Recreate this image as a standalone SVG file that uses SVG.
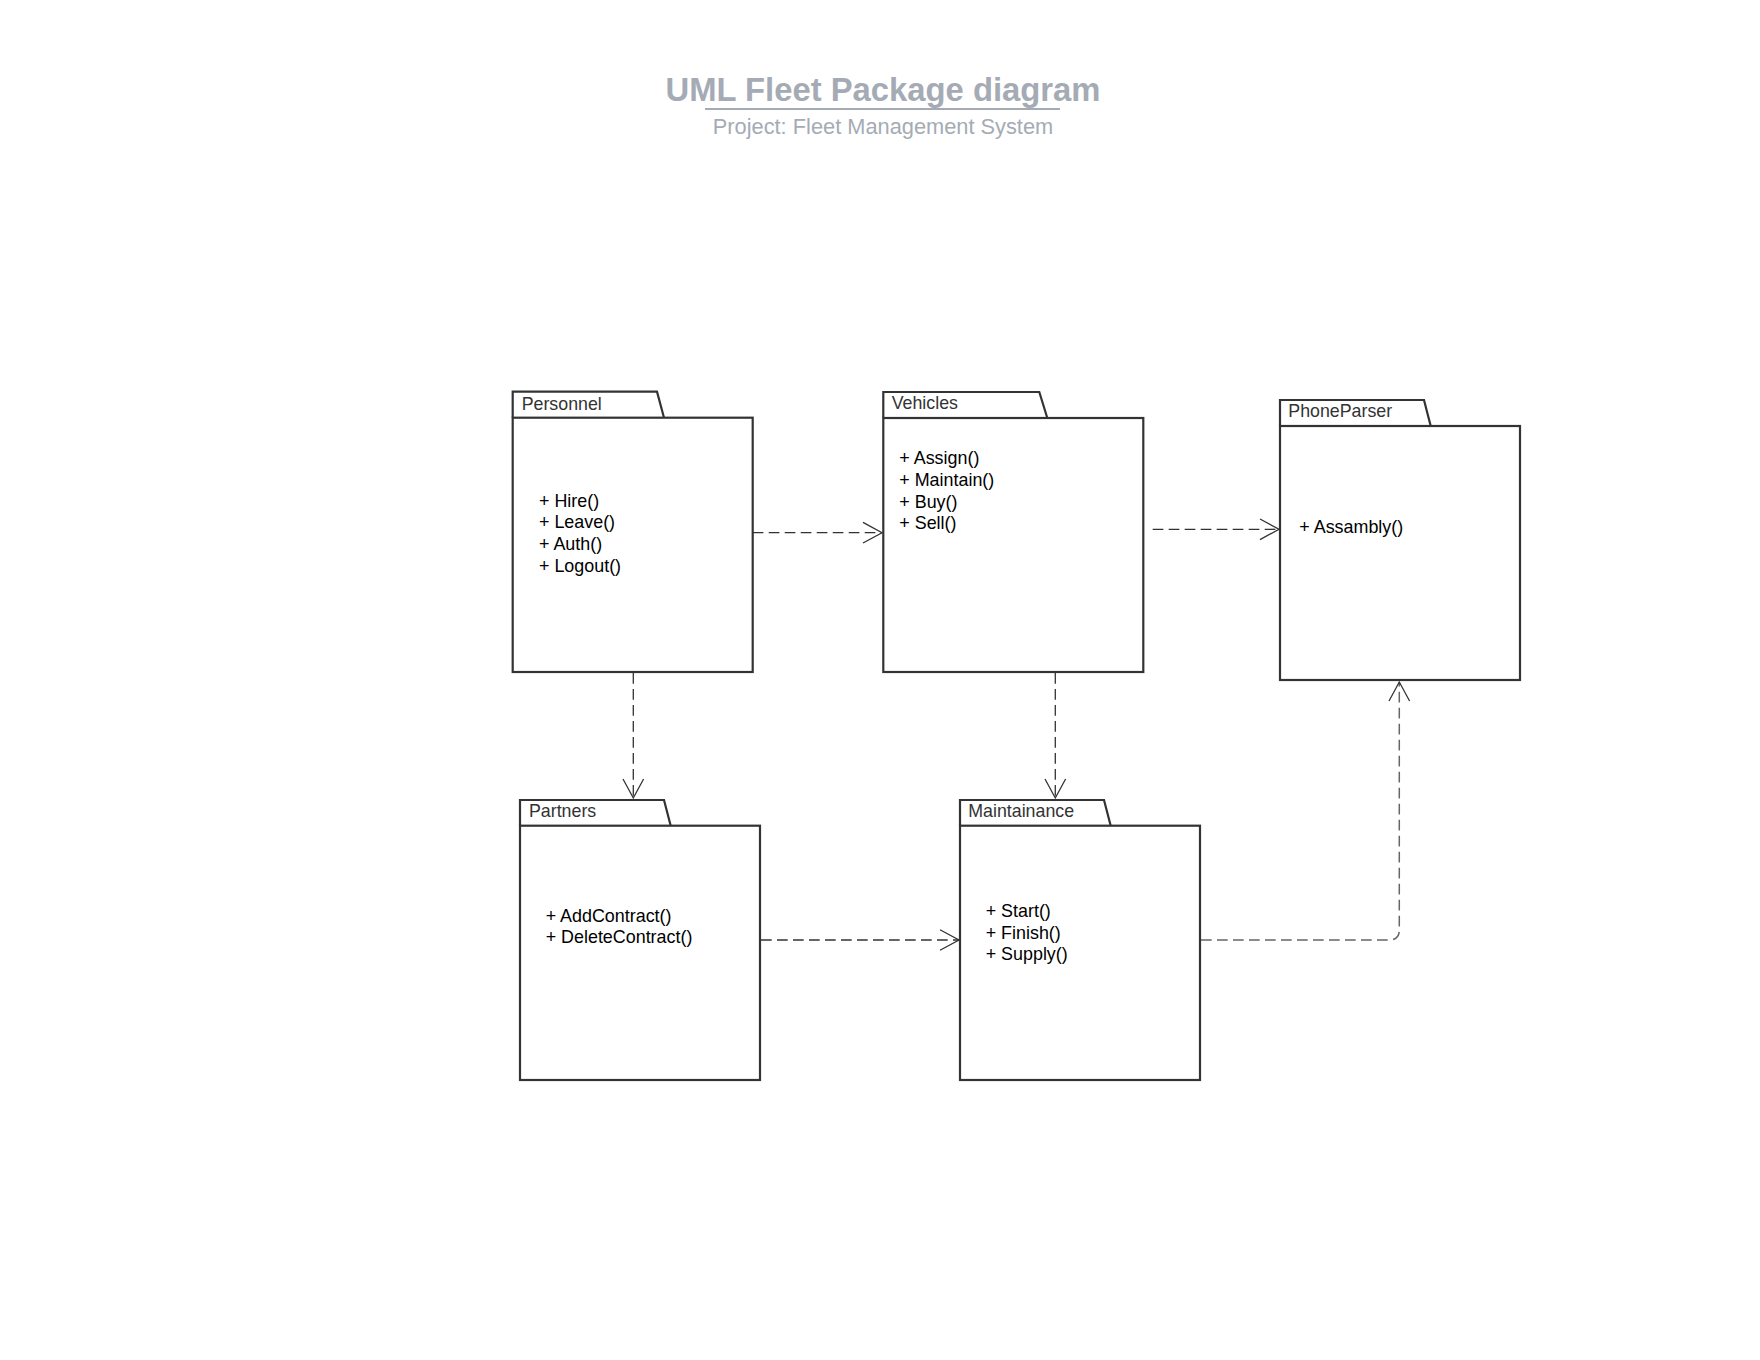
<svg xmlns="http://www.w3.org/2000/svg" width="1760" height="1360" viewBox="0 0 1760 1360">
<style>
.pkg{fill:#fff;stroke:#333;stroke-width:2.2;stroke-linejoin:miter}
.tab{fill:#fff;stroke:#333;stroke-width:2.2}
.lbl{font-family:"Liberation Sans",Arial,sans-serif;font-size:17.8px;fill:#333}
.mem{font-family:"Liberation Sans",Arial,sans-serif;font-size:17.9px;fill:#000}
.con{fill:none;stroke:#333;stroke-width:1.3;stroke-dasharray:10.7 5.3}
.con2{fill:none;stroke:#666;stroke-width:1.5;stroke-dasharray:10.7 5.3}
.title{font-family:"Liberation Sans",Arial,sans-serif;font-size:32.8px;font-weight:bold;fill:#a5abb4}
.sub{font-family:"Liberation Sans",Arial,sans-serif;font-size:21.8px;fill:#a5abb4}
</style>
<defs>
<marker id="open" viewBox="-22 -12 24 24" refX="0" refY="0" markerWidth="24" markerHeight="24" markerUnits="userSpaceOnUse" orient="auto">
<path d="M-19,-10.3 L0,0 L-19,10.3" fill="none" stroke="#333" stroke-width="1.3" stroke-dasharray="none"/>
</marker>
</defs>
<rect width="1760" height="1360" fill="#fff"/>
<g id="title">
<text class="title" x="883" y="101" text-anchor="middle">UML Fleet Package diagram</text>
<line x1="705" y1="109" x2="1060" y2="109" stroke="#a5abb4" stroke-width="2"/>
<text class="sub" x="883" y="134" text-anchor="middle">Project: Fleet Management System</text>
</g>
<g id="connectors">
<path class="con" d="M752.7,532.7 H882" marker-end="url(#open)"/>
<path class="con" d="M1152.7,529.3 H1279" marker-end="url(#open)"/>
<path class="con" d="M633.3,673 V798" marker-end="url(#open)"/>
<path class="con" d="M1055.3,673 V798" marker-end="url(#open)"/>
<path class="con" d="M761,940 H959" marker-end="url(#open)"/>
<path class="con2" d="M1201,940 H1389.3 Q1399.3,940 1399.3,930 V682" marker-end="url(#open)"/>
</g>
<g id="personnel">
<path class="tab" d="M512.7,417.7 V391.7 H657 L664,417.7"/>
<rect class="pkg" x="512.7" y="417.7" width="240" height="254.3"/>
<text class="lbl" x="521.7" y="409.5">Personnel</text>
<text class="mem" x="539" y="506.5">+ Hire()</text>
<text class="mem" x="539" y="528.2">+ Leave()</text>
<text class="mem" x="539" y="549.9">+ Auth()</text>
<text class="mem" x="539" y="571.6">+ Logout()</text>
</g>
<g id="vehicles">
<path class="tab" d="M883.3,418 V392 H1039.3 L1047.3,418"/>
<rect class="pkg" x="883.3" y="418" width="260" height="254"/>
<text class="lbl" x="891.7" y="409.2">Vehicles</text>
<text class="mem" x="899.3" y="464.1">+ Assign()</text>
<text class="mem" x="899.3" y="485.8">+ Maintain()</text>
<text class="mem" x="899.3" y="507.5">+ Buy()</text>
<text class="mem" x="899.3" y="529.2">+ Sell()</text>
</g>
<g id="phoneparser">
<path class="tab" d="M1280,426 V400 H1424 L1430.7,426"/>
<rect class="pkg" x="1280" y="426" width="240" height="254"/>
<text class="lbl" x="1288.3" y="416.5">PhoneParser</text>
<text class="mem" x="1299.3" y="532.5">+ Assambly()</text>
</g>
<g id="partners">
<path class="tab" d="M520,825.7 V800 H664 L670.7,825.7"/>
<rect class="pkg" x="520" y="825.7" width="240" height="254.3"/>
<text class="lbl" x="529" y="817.2">Partners</text>
<text class="mem" x="545.7" y="921.5">+ AddContract()</text>
<text class="mem" x="545.7" y="943.2">+ DeleteContract()</text>
</g>
<g id="maintainance">
<path class="tab" d="M960,825.7 V800 H1104 L1110.7,825.7"/>
<rect class="pkg" x="960" y="825.7" width="240" height="254.3"/>
<text class="lbl" x="968.3" y="817.2">Maintainance</text>
<text class="mem" x="985.7" y="916.8">+ Start()</text>
<text class="mem" x="985.7" y="938.5">+ Finish()</text>
<text class="mem" x="985.7" y="960.2">+ Supply()</text>
</g>
</svg>
